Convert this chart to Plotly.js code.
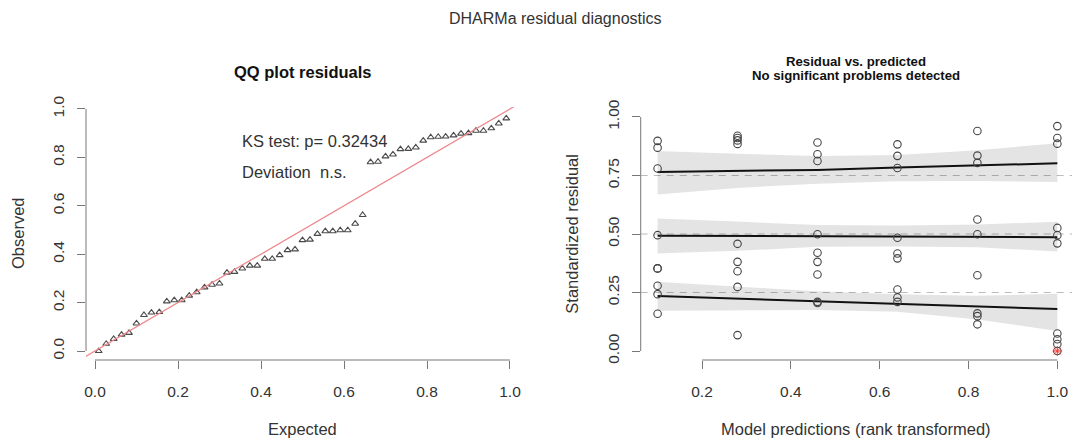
<!DOCTYPE html>
<html>
<head>
<meta charset="utf-8">
<script src="https://cdn.plot.ly/plotly-3.0.1.min.js"></script>
<style>html,body{margin:0;padding:0;background:#fff;}#chart{width:1072px;height:444px;}</style>
</head>
<body>
<div id="chart"></div>
<script>
// ---------- Data ----------
// QQ plot: expected uniform quantiles and sorted observed residuals
const qqExpected = [0.009,0.027,0.045,0.064,0.082,0.100,0.118,0.136,0.155,0.173,0.191,0.209,0.227,0.245,0.264,0.282,0.300,0.318,0.336,0.355,0.373,0.391,0.409,0.427,0.445,0.464,0.482,0.500,0.518,0.536,0.555,0.573,0.591,0.609,0.627,0.645,0.664,0.682,0.700,0.718,0.736,0.755,0.773,0.791,0.809,0.827,0.845,0.864,0.882,0.900,0.918,0.936,0.955,0.973,0.991];
const qqObserved = [0.000,0.030,0.050,0.068,0.075,0.114,0.149,0.159,0.161,0.205,0.210,0.210,0.229,0.243,0.263,0.274,0.279,0.324,0.327,0.341,0.353,0.353,0.381,0.381,0.396,0.417,0.420,0.458,0.460,0.484,0.495,0.495,0.499,0.499,0.526,0.562,0.780,0.782,0.804,0.812,0.834,0.835,0.841,0.869,0.883,0.885,0.886,0.891,0.898,0.900,0.910,0.910,0.920,0.940,0.961];
const ksText = "KS test: p= 0.32434";
const devText = "Deviation\u00a0 n.s.";

// Residual vs predicted: rank-transformed predictions (6 groups) and residuals per group
const predGroups = [0.10, 0.28, 0.46, 0.64, 0.82, 1.00];
const resid1 = [0.898,0.869,0.780,0.495,0.353,0.353,0.279,0.243,0.159];
const resid2 = [0.920,0.910,0.900,0.885,0.458,0.381,0.341,0.274,0.068];
const resid3 = [0.891,0.841,0.812,0.499,0.420,0.381,0.327,0.210,0.205];
const resid4 = [0.883,0.834,0.782,0.484,0.417,0.396,0.263,0.229,0.210];
const resid5 = [0.940,0.835,0.804,0.562,0.499,0.324,0.161,0.149,0.114];
const resid6 = [0.961,0.910,0.886,0.526,0.495,0.460,0.075,0.050,0.030,0.000];
const outlierX = [1.00];
const outlierY = [0.000];

// Quantile regression fits (0.25, 0.5, 0.75) with confidence bands, at predGroups
const q25Fit = [0.235,0.224,0.213,0.203,0.192,0.179];
const q25Lo  = [0.172,0.175,0.175,0.168,0.135,0.085];
const q25Hi  = [0.296,0.275,0.255,0.243,0.236,0.245];
const q50Fit = [0.493,0.492,0.490,0.488,0.487,0.486];
const q50Lo  = [0.417,0.428,0.445,0.447,0.443,0.425];
const q50Hi  = [0.566,0.553,0.538,0.536,0.541,0.552];
const q75Fit = [0.765,0.769,0.774,0.784,0.794,0.802];
const q75Lo  = [0.669,0.697,0.715,0.725,0.726,0.722];
const q75Hi  = [0.855,0.843,0.833,0.838,0.858,0.888];
const refQuantiles = [0.25, 0.5, 0.75];

// ---------- Build traces ----------
const residGroups = [resid1, resid2, resid3, resid4, resid5, resid6];
const ptX = [], ptY = [];
residGroups.forEach((g, i) => g.forEach(v => { ptX.push(predGroups[i]); ptY.push(v); }));

const FONT = "Liberation Sans, Arial, sans-serif";
const TXT = "#333333";
const AX = "#777777";
const BAND = "rgba(0,0,0,0.105)";

function band(lo, hi) {
  return {
    x: predGroups.concat(predGroups.slice().reverse()),
    y: lo.concat(hi.slice().reverse()),
    xaxis: "x2", yaxis: "y2", type: "scatter", mode: "lines",
    fill: "toself", fillcolor: BAND, line: {width: 0}, hoverinfo: "skip", showlegend: false
  };
}
function fitLine(v) {
  return {x: predGroups, y: v, xaxis: "x2", yaxis: "y2", type: "scatter", mode: "lines",
    line: {color: "#111111", width: 2}, showlegend: false};
}

const traces = [
  {x: qqExpected, y: qqObserved, xaxis: "x", yaxis: "y", type: "scatter", mode: "markers",
   marker: {symbol: "triangle-up-open", size: 6, color: "#4a4a4a", line: {width: 1.1}}, showlegend: false},
  band(q25Lo, q25Hi), band(q50Lo, q50Hi), band(q75Lo, q75Hi),
  fitLine(q25Fit), fitLine(q50Fit), fitLine(q75Fit),
  {x: ptX, y: ptY, xaxis: "x2", yaxis: "y2", type: "scatter", mode: "markers",
   marker: {symbol: "circle-open", size: 7.5, color: "#444444", line: {width: 1.1}}, showlegend: false},
  {x: outlierX, y: outlierY, xaxis: "x2", yaxis: "y2", type: "scatter", mode: "markers",
   marker: {symbol: "asterisk-open", size: 8, color: "#ff3030", line: {width: 1, color: "#ff3030"}},
   showlegend: false, cliponaxis: false}
];

// ---------- Layout ----------
const W = 1072, H = 444;
const xDomL = [86 / W, 519 / W], xDomR = [640.7 / W, 1];
const yDom = [84 / H, 337 / H], yDomR = [84 / H, 336.7 / H];
const TICK = 15.5, LAB = 16.5;

function axisBase(extra) {
  return Object.assign({
    showgrid: false, zeroline: false, showline: false,
    ticks: "outside", ticklen: 8, tickwidth: 1, tickcolor: AX,
    tickfont: {family: FONT, size: TICK, color: TXT}
  }, extra);
}

const shapes = [
  // R-style axis lines spanning first to last tick
  {type: "line", xref: "x", yref: "y domain", x0: 0, x1: 1, y0: 0, y1: 0, line: {color: AX, width: 1}},
  {type: "line", xref: "x domain", yref: "y", x0: 0, x1: 0, y0: 0, y1: 1, line: {color: AX, width: 1}},
  {type: "line", xref: "x2", yref: "y2 domain", x0: 0.2, x1: 1, y0: 0, y1: 0, line: {color: AX, width: 1}},
  {type: "line", xref: "x2 domain", yref: "y2", x0: 0, x1: 0, y0: 0, y1: 1, line: {color: AX, width: 1}},
  // identity reference line in QQ plot
  {type: "line", xref: "x", yref: "y", x0: -0.2, y0: -0.2, x1: 1.2, y1: 1.2, line: {color: "#ec8a8e", width: 1.3}}
];
refQuantiles.forEach(q => shapes.push({
  type: "line", xref: "x2 domain", yref: "y2", x0: 0, x1: 1, y0: q, y1: q, layer: "below",
  line: {color: "#bcbcbc", width: 1.2, dash: "7px,6px"}
}));

const annotations = [
  {text: "DHARMa residual diagnostics", xref: "paper", yref: "paper", x: 555 / W, y: 1 - 18 / H,
   xanchor: "center", yanchor: "middle", showarrow: false, font: {family: FONT, size: 16, color: TXT}},
  {text: "<b>QQ plot residuals</b>", xref: "x domain", yref: "paper", x: 0.5, y: 1 - 72 / H,
   xanchor: "center", yanchor: "middle", showarrow: false, font: {family: FONT, size: 16.5, color: "#111"}},
  {text: "<b>Residual vs. predicted</b>", xref: "x2 domain", yref: "paper", x: 0.5, y: 1 - 61 / H,
   xanchor: "center", yanchor: "middle", showarrow: false, font: {family: FONT, size: 13.2, color: "#111"}},
  {text: "<b>No significant problems detected</b>", xref: "x2 domain", yref: "paper", x: 0.5, y: 1 - 75.5 / H,
   xanchor: "center", yanchor: "middle", showarrow: false, font: {family: FONT, size: 13.2, color: "#111"}},
  {text: "Expected", xref: "x domain", yref: "paper", x: 0.5, y: 1 - 429 / H,
   xanchor: "center", yanchor: "middle", showarrow: false, font: {family: FONT, size: LAB, color: TXT}},
  {text: "Model predictions (rank transformed)", xref: "x2 domain", yref: "paper", x: 0.5, y: 1 - 429 / H,
   xanchor: "center", yanchor: "middle", showarrow: false, font: {family: FONT, size: LAB, color: TXT}},
  {text: "Observed", xref: "paper", yref: "y domain", x: 17.5 / W, y: 0.5, textangle: -90,
   xanchor: "center", yanchor: "middle", showarrow: false, font: {family: FONT, size: LAB, color: TXT}},
  {text: "Standardized residual", xref: "paper", yref: "y2 domain", x: 572 / W, y: 0.5, textangle: -90,
   xanchor: "center", yanchor: "middle", showarrow: false, font: {family: FONT, size: LAB, color: TXT}},
  {text: ksText, xref: "x", yref: "y", x: 0.35, y: 0.868, xanchor: "left", yanchor: "middle",
   showarrow: false, font: {family: FONT, size: LAB, color: TXT}},
  {text: devText, xref: "x", yref: "y", x: 0.35, y: 0.74, xanchor: "left", yanchor: "middle",
   showarrow: false, font: {family: FONT, size: LAB, color: TXT}}
];

const layout = {
  width: W, height: H,
  margin: {l: 0, r: 0, t: 0, b: 0, pad: 0},
  paper_bgcolor: "#ffffff", plot_bgcolor: "rgba(0,0,0,0)",
  showlegend: false,
  font: {family: FONT, color: TXT},
  xaxis: axisBase({domain: xDomL, range: [-0.0217, 1.0217], tick0: 0, dtick: 0.2, tickformat: ".1f",
    anchor: "y", ticklabelstandoff: 9}),
  yaxis: axisBase({domain: yDom, range: [-0.037, 1.008], tick0: 0, dtick: 0.2, tickformat: ".1f",
    anchor: "x", tickangle: -90, ticklabelstandoff: 7}),
  xaxis2: axisBase({domain: xDomR, range: [0.062, 1.033], tick0: 0, dtick: 0.2, tickformat: ".1f",
    anchor: "y2", ticklabelstandoff: 9}),
  yaxis2: axisBase({domain: yDomR, range: [-0.0384, 1.0414], tick0: 0, dtick: 0.25, tickformat: ".2f",
    anchor: "x2", tickangle: -90, ticklabelstandoff: 7}),
  shapes: shapes,
  annotations: annotations
};

Plotly.newPlot("chart", traces, layout, {staticPlot: true, displayModeBar: false});
</script>
</body>
</html>
